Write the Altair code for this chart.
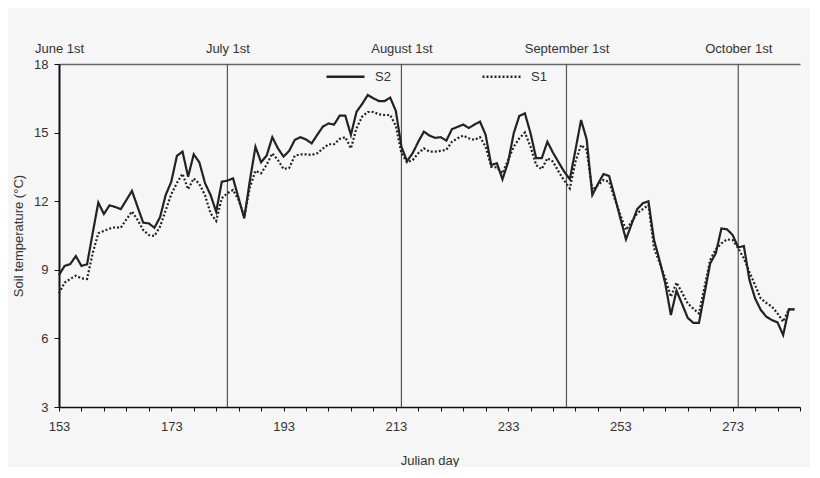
import altair as alt
import pandas as pd

# Julian days of the daily readings
days = list(range(153, 285))

# soil temperature (°C)
s2 = [8.77, 9.17, 9.25, 9.6, 9.17, 9.24, 10.6, 11.94, 11.44, 11.82,
      11.75, 11.65, 12.05, 12.45, 11.75, 11.06, 11.03, 10.84, 11.3, 12.27,
      12.85, 13.98, 14.17, 13.07, 14.05, 13.7, 12.8, 12.27, 11.54, 12.85,
      12.9, 13.0, 12.13, 11.25, 12.9, 14.38, 13.7, 14.0, 14.8, 14.31,
      13.95, 14.2, 14.68, 14.8, 14.7, 14.53, 14.9, 15.26, 15.4, 15.35,
      15.74, 15.74, 14.9, 15.91, 16.25, 16.64, 16.5, 16.38, 16.38, 16.53,
      15.95, 14.38, 13.75, 14.1, 14.6, 15.04, 14.87, 14.77, 14.8, 14.65,
      15.15, 15.25, 15.35, 15.2, 15.35, 15.48, 14.9, 13.58, 13.66, 12.96,
      13.7, 14.97, 15.73, 15.84, 14.97, 13.88, 13.88, 14.6, 14.12, 13.7,
      13.29, 12.96, 14.24, 15.55, 14.7, 12.27, 12.75, 13.19, 13.1, 12.2,
      11.25, 10.33, 11.0, 11.65, 11.91, 12.0, 10.3, 9.4, 8.4, 7.02,
      8.09, 7.5, 6.9, 6.68, 6.68, 7.97, 9.28, 9.72, 10.81, 10.77,
      10.52, 9.98, 10.04, 8.55, 7.75, 7.25, 6.95, 6.8, 6.7, 6.15,
      7.27, 7.27]
s1 = [7.97, 8.44, 8.6, 8.74, 8.63, 8.6, 9.72, 10.6, 10.7, 10.8,
      10.86, 10.84, 11.2, 11.55, 11.18, 10.74, 10.52, 10.48, 10.89, 11.6,
      12.3, 12.8, 13.2, 12.52, 13.0, 12.75, 12.27, 11.47, 11.14, 12.13,
      12.35, 12.49, 12.05, 11.32, 12.6, 13.33, 13.22, 13.6, 14.09, 13.8,
      13.41, 13.45, 13.99, 14.05, 14.05, 14.02, 14.1, 14.3, 14.49, 14.49,
      14.72, 14.8, 14.31, 15.19, 15.7, 15.9, 15.9, 15.8, 15.77, 15.77,
      15.3, 14.1, 13.7, 13.8, 14.1, 14.31, 14.17, 14.17, 14.2, 14.25,
      14.6, 14.75, 14.87, 14.75, 14.68, 14.8, 14.38, 13.5, 13.48, 13.22,
      13.8, 14.38, 14.75, 15.0, 14.38, 13.58, 13.4, 13.88, 13.73, 13.29,
      12.9, 12.56, 13.73, 14.46, 14.24, 12.49, 12.7, 12.93, 12.85, 12.1,
      11.4, 10.74, 11.1, 11.47, 11.65, 11.83, 9.94, 9.3, 8.63, 7.82,
      8.44, 8.0, 7.53, 7.3, 7.09, 8.26, 9.43, 9.9, 10.16, 10.33,
      10.3, 9.94, 9.5, 8.9, 8.33, 7.75, 7.55, 7.39, 7.09, 6.73,
      7.27, 7.27]

# first day of each month as drawn on the figure
month_days = [153, 183, 214, 243.4, 274]
month_names = ["June 1st", "July 1st", "August 1st", "September 1st", "October 1st"]

df = pd.DataFrame({
    "day": days * 2,
    "temp": s2 + s1,
    "series": ["S2"] * len(days) + ["S1"] * len(days),
})
months = pd.DataFrame({"day": month_days[1:], "name": month_names[1:]})

month_expr = " : ".join(
    f"datum.value == {d} ? '{n}'" for d, n in zip(month_days, month_names)
) + " : ''"

x_scale = alt.Scale(domain=[153, 285], nice=False, zero=False)

#Linhas verticais no inicio de cada mes + eixo de cima
rules = alt.Chart(months).mark_rule(color="#555", strokeWidth=1.2).encode(
    x=alt.X("day:Q", scale=x_scale, title=None,
            axis=alt.Axis(orient="top", values=month_days, labelExpr=month_expr,
                          ticks=False, domainColor="#666", domainWidth=1.3,
                          labelPadding=9, labelFontSize=13, labelFlush=False,
                          labelOverlap=False))
)

#Series de temperatura
lines = alt.Chart(df).mark_line(strokeWidth=2.2, color="#222").encode(
    x=alt.X("day:Q", scale=x_scale, title="Julian day",
            axis=alt.Axis(values=list(range(153, 286, 4)), format="d",
                          labelExpr="(datum.value - 153) % 20 == 0 ? datum.label : ''",
                          tickSize=4, tickColor="#111", domainColor="#111",
                          domainWidth=1.6, labelPadding=9, titlePadding=21,
                          labelFlush=False, labelOverlap=False)),
    y=alt.Y("temp:Q", scale=alt.Scale(domain=[3, 18], nice=False, zero=False),
            title="Soil temperature (°C)",
            axis=alt.Axis(values=[3, 6, 9, 12, 15, 18], tickSize=5, tickColor="#111",
                          domainColor="#111", domainWidth=2, labelPadding=6,
                          titlePadding=8)),
    strokeDash=alt.StrokeDash(
        "series:N",
        scale=alt.Scale(domain=["S2", "S1"], range=[[1, 0], [2, 2]]),
        legend=alt.Legend(orient="none", legendX=266, legendY=-8, direction="horizontal",
                          title=None, symbolType="stroke", symbolSize=1444,
                          symbolStrokeWidth=2.5, symbolStrokeColor="#222",
                          labelFontSize=13, labelOffset=9, columnPadding=86,
                          labelColor="#333", labelFont="Liberation Sans"),
    ),
)

chart = alt.layer(rules, lines).resolve_axis(x="independent").properties(
    width=741,
    height=343,
    padding={"left": 51, "top": 56, "right": 10, "bottom": 60},
    autosize=alt.AutoSizeParams(type="none"),
    background="#f6f6f6",
).configure_view(stroke=None).configure_axis(
    grid=False,
    labelFont="Liberation Sans",
    titleFont="Liberation Sans",
    labelFontSize=13,
    titleFontSize=13,
    titleFontWeight="normal",
    labelColor="#333",
    titleColor="#333",
)

chart.save("out.html", embed_options={"renderer": "svg", "actions": False})
